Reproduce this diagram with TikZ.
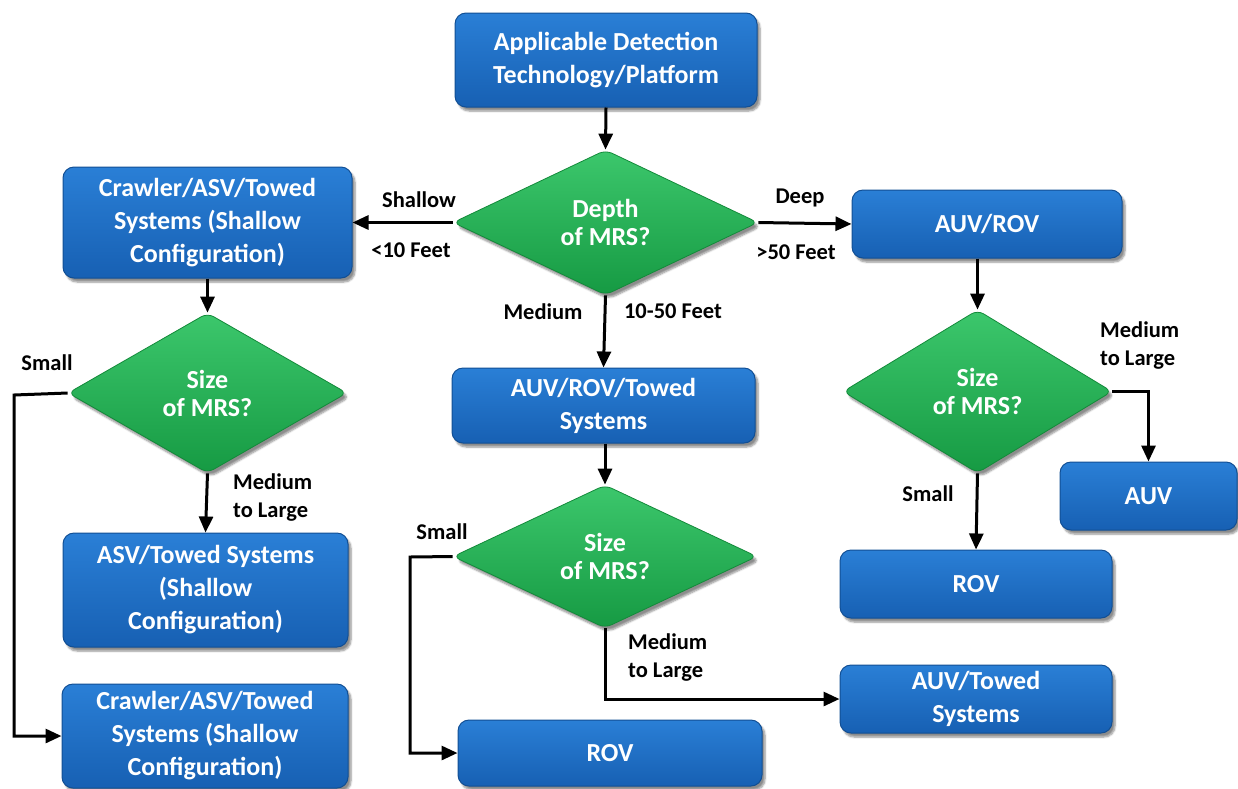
\documentclass[tikz,border=0pt]{standalone}
\usepackage{fontspec}
\setmainfont{Carlito}
\usetikzlibrary{shapes.geometric,arrows.meta,shadows.blur}
\definecolor{boxtop}{HTML}{2A7FD6}
\definecolor{boxbot}{HTML}{1760B3}
\definecolor{boxedge}{HTML}{124F94}
\definecolor{dtop}{HTML}{3CC76C}
\definecolor{dbot}{HTML}{169A43}
\definecolor{dedge}{HTML}{138A3A}
\tikzset{
  bx/.style={rectangle, rounded corners=11pt, top color=boxtop, bottom color=boxbot,
    draw=boxedge, line width=1pt, text=white, align=center, inner sep=0pt,
    font=\bfseries\fontsize{26}{33}\selectfont,
    blur shadow={shadow xshift=3pt, shadow yshift=-4pt, shadow blur steps=6, shadow opacity=45}},
  dm/.style={diamond, rounded corners=7pt, top color=dtop, bottom color=dbot,
    draw=dedge, line width=0.8pt, text=white, align=center, inner sep=0pt,
    font=\bfseries\fontsize{26}{28}\selectfont,
    blur shadow={shadow xshift=3pt, shadow yshift=-4pt, shadow blur steps=6, shadow opacity=45}},
  lbl/.style={font=\bfseries\fontsize{22.5}{28}\selectfont, text=black, inner sep=0pt},
  ar/.style={line width=3pt, -{Triangle[length=16pt,width=14pt]}},
}
\begin{document}
\begin{tikzpicture}[x=1pt,y=-1pt]
\useasboundingbox (0,0) rectangle (1238,788);
% boxes
\node[bx, minimum width=302pt, minimum height=94pt] (T) at (606,60) {Applicable Detection\\Technology/Platform};
\node[bx, minimum width=289pt, minimum height=111pt] (L1) at (207.5,222.5) {Crawler/ASV/Towed\\Systems (Shallow\\Configuration)};
\node[bx, minimum width=285pt, minimum height=114pt] (L2) at (205.5,590) {ASV/Towed Systems\\(Shallow\\Configuration)};
\node[bx, minimum width=286pt, minimum height=104pt] (L3) at (205,736) {Crawler/ASV/Towed\\Systems (Shallow\\Configuration)};
\node[bx, minimum width=270pt, minimum height=68pt] (R1) at (987,224) {AUV/ROV};
\node[bx, minimum width=303pt, minimum height=75pt] (M1) at (603.5,405.5) {AUV/ROV/Towed\\Systems};
\node[bx, minimum width=304pt, minimum height=66pt] (ROVM) at (610,753) {ROV};
\node[bx, minimum width=272pt, minimum height=68pt] (ATS) at (976,699) {AUV/Towed\\Systems};
\node[bx, minimum width=272pt, minimum height=68pt] (ROVR) at (976,584) {ROV};
\node[bx, minimum width=177pt, minimum height=68pt] (AUV) at (1148.5,496) {AUV};
% diamonds
\node[dm, minimum width=305pt, minimum height=145pt] (D) at (605.5,222.5) {Depth\\of MRS?};
\node[dm, minimum width=279pt, minimum height=160pt] (DL) at (207.5,393) {Size\\of MRS?};
\node[dm, minimum width=269pt, minimum height=163pt] (DR) at (977.5,391.5) {Size\\of MRS?};
\node[dm, minimum width=304pt, minimum height=143pt] (DM) at (605,556.5) {Size\\of MRS?};
% labels
\node[lbl] (lsh) at (419,200) {Shallow};
\node[lbl] (l10) at (411,250) {<10 Feet};
\node[lbl] (ldp) at (800,198) {Deep};
\node[lbl] (l50) at (796,252) {>50 Feet};
\node[lbl] (lmd) at (543,312) {Medium};
\node[lbl] (l1050) at (673,311) {10-50 Feet};
\node[lbl] (lsL) at (47,363) {Small};
\node[lbl, anchor=west, align=left] (lmL) at (233,497) {Medium\\to Large};
\node[lbl, anchor=west, align=left] (lmR) at (1100,346) {Medium\\to Large};
\node[lbl] (lsR) at (928,494) {Small};
\node[lbl] (lsM) at (442,532) {Small};
\node[lbl, anchor=west, align=left] (lmM) at (628,657) {Medium\\to Large};
% helper coordinates
\coordinate (cL) at (14,395);
\coordinate (cM) at (410,557);
% connectors
\draw[ar] (T.south) -- (D.north);
\draw[ar] (D.west) -- (L1.east);
\draw[ar] (D.east) -- (R1.west);
\draw[ar] (D.south) -- (M1.north);
\draw[ar] (L1.south) -- (DL.north);
\draw[ar] (DL.south) -- (L2.north);
\draw[ar] (DL.west) -- (cL) |- (L3.west);
\draw[ar] (DR.north |- R1.south) -- (DR.north);
\draw[ar] (DR.east) -| (AUV.north);
\draw[ar] (DR.south) -- (ROVR.north);
\draw[ar] (DM.north |- M1.south) -- (DM.north);
\draw[ar] (DM.west) -- (cM) |- (ROVM.west);
\draw[ar] (DM.south) |- (ATS.west);
\end{tikzpicture}
\end{document}
